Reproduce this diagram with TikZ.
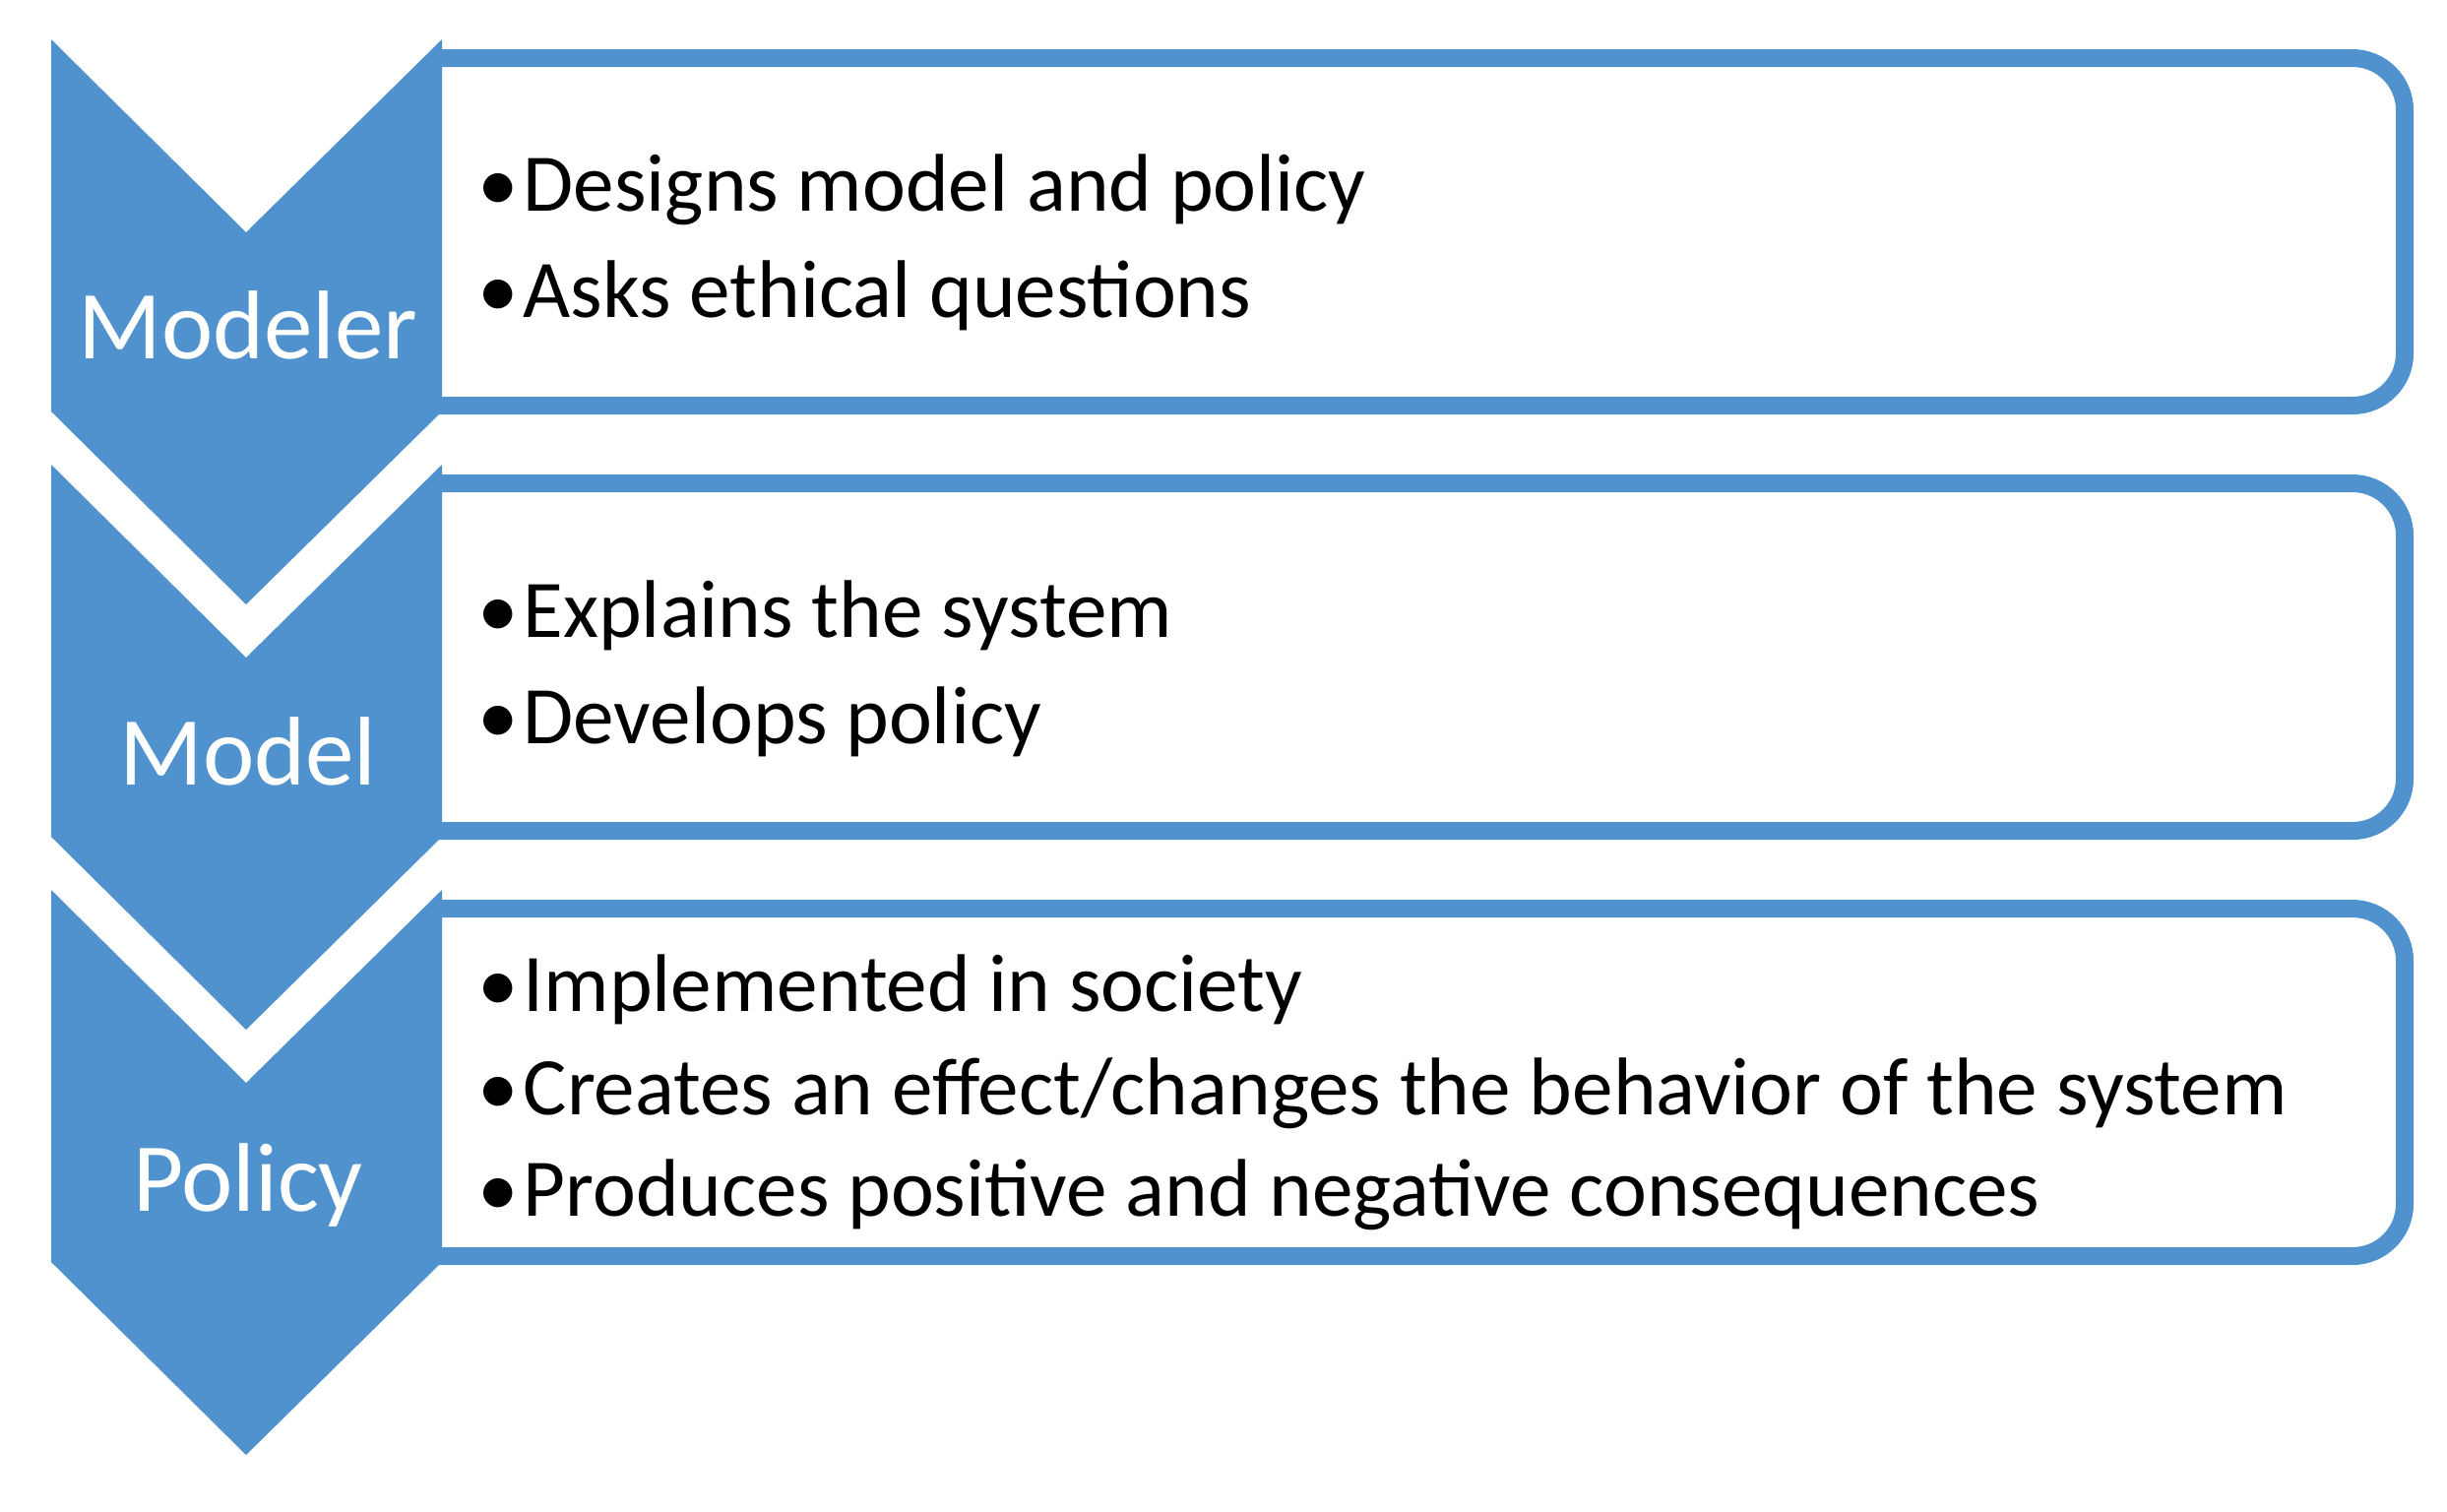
\documentclass[tikz,border=0pt]{standalone}
\usepackage{fontspec}
\setmainfont{Carlito}
\definecolor{chev}{RGB}{79,146,206}
\tikzset{
  chevshape/.style={fill=chev, draw=none},
  boxline/.style={draw=chev, line width=0.18cm, rounded corners=0.53cm},
  chevlabel/.style={anchor=base, text=white, inner sep=0pt, font=\fontsize{28.2pt}{33pt}\selectfont},
  bul/.style={anchor=base, inner sep=0pt, font=\fontsize{23.65pt}{28pt}\selectfont},
  item/.style={anchor=base west, inner sep=0pt, font=\fontsize{23.65pt}{28pt}\selectfont}
}
\begin{document}
\begin{tikzpicture}[x=0.01cm, y=-0.01cm]
\useasboundingbox (0,0) rectangle (2486,1535);
% boxes
\foreach \t/\b in {59/412, 491/844, 923/1276}{
  \draw[boxline] (440,\t) -| (2443,\b) -- (440,\b);
}
% chevrons
\foreach \top in {40, 472, 904}{
  \fill[chevshape] (52,\top) -- (250,\top+196) -- (449,\top) -- (449,\top+378)
     -- (250,\top+574) -- (52,\top+378) -- cycle;
}
% chevron labels
\node[chevlabel] (l1) at (252,364) {Modeler};
\node[chevlabel] (l2) at (252,797) {Model};
\node[chevlabel] (l3) at (252,1230) {Policy};
% bullets and items
\foreach \y/\txt [count=\i] in {
  214/{Designs model and policy},
  322/{Asks ethical questions},
  647/{Explains the system},
  755/{Develops policy},
  1027/{Implemented in society},
  1132/{Creates an effect/changes the behavior of the system},
  1235/{Produces positive and negative consequences}}{
  \node[bul] (b\i) at (506,\y) {•};
  \node[item] (t\i) at (531,\y) {\txt};
}
\end{tikzpicture}
\end{document}
